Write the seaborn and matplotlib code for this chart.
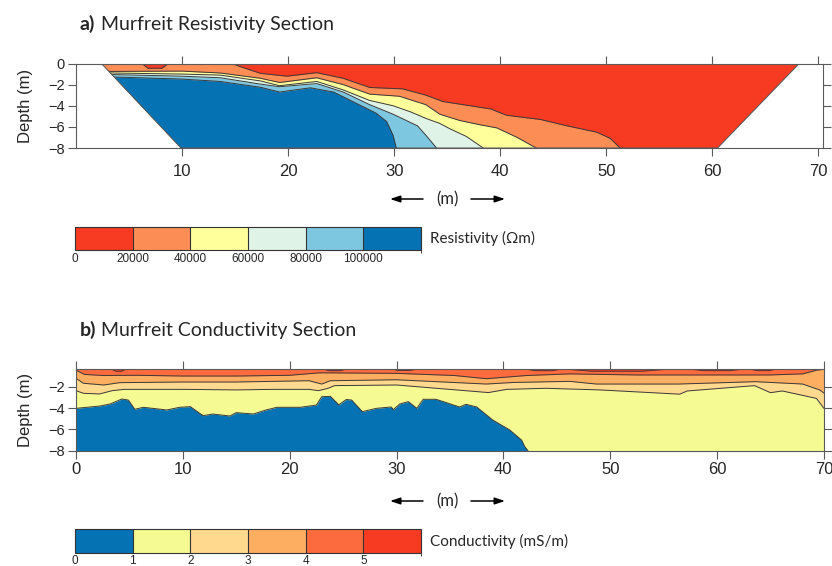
import matplotlib
matplotlib.use("Agg")
import numpy as np
import matplotlib.pyplot as plt
from matplotlib.colors import ListedColormap, BoundaryNorm
from matplotlib.patches import Polygon
import seaborn as sns

sns.set_style("white")
plt.rcParams['font.family'] = ['Liberation Sans', 'DejaVu Sans']

# ---------------- a) resistivity section ----------------
# survey footprint (trapezoid) x / depth
TRAP_X = [2.4, 68.2, 60.5, 9.9]
TRAP_D = [0, 0, -8, -8]

RES_BOUNDS = [0, 20000, 40000, 60000, 80000, 100000, 120000]
RES_TICKS = [0, 20000, 40000, 60000, 80000, 100000]
RES_COLORS = ['#f73b23', '#fc8d55', '#ffff9c', '#e0f3e7', '#7ec7e1', '#0572b3']

# contour depths (20k, 40k, 60k, 80k, 100k Ohm.m)
R1_X = [0, 14.7, 15.5, 17.0, 17.4, 19.9, 22.7, 25.2, 27.7, 30.8, 33.0, 34.6, 36.2, 39.1, 40.6, 43.8, 46.3, 49.1, 50.4, 51.3]
R1_D = [0, 0, -0.3, -0.8, -0.93, -1.2, -0.87, -1.4, -2.27, -2.4, -3.0, -3.6, -3.85, -4.3, -4.9, -5.3, -5.9, -6.5, -7.1, -8.0]
R2_X = [0, 3.5, 10, 13.6, 17.4, 19.2, 22.7, 25.2, 27.7, 30.5, 33.0, 34.3, 36.2, 38.1, 39.7, 41.6, 43.4]
R2_D = [-0.7, -0.75, -0.72, -0.9, -1.4, -1.8, -1.35, -2.0, -2.9, -3.1, -3.9, -4.8, -5.4, -5.8, -6.1, -7.0, -8.0]
R3_X = [0, 3.5, 10, 13.6, 17.4, 19.2, 22.7, 25.2, 27.7, 29.9, 31.6, 33.0, 34.3, 35.3, 36.8, 38.4]
R3_D = [-0.85, -0.9, -1.0, -1.1, -1.65, -2.1, -1.7, -2.5, -3.5, -4.0, -4.6, -5.2, -5.67, -6.2, -6.9, -8.0]
R4_X = [0, 3.5, 10, 13.6, 17.4, 19.2, 22.7, 25.2, 27.7, 29.9, 32.2, 33.0, 34.0]
R4_D = [-1.0, -1.05, -1.2, -1.35, -1.95, -2.2, -1.9, -2.7, -3.9, -4.8, -5.9, -6.8, -8.0]
R5_X = [0, 3.5, 9.9, 13.6, 17.4, 19.2, 22.1, 24.3, 26.7, 28.3, 29.3, 29.9, 30.2]
R5_D = [-1.25, -1.28, -1.47, -1.7, -2.25, -2.7, -2.3, -2.7, -3.9, -4.7, -5.5, -6.8, -8.0]
# small low-resistivity lens near the surface
RES_LENS_X = [6.2, 6.8, 8.1, 8.7]
RES_LENS_D = [0, -0.45, -0.45, 0]

# ---------------- b) conductivity section ----------------
COND_BOUNDS = [0, 1, 2, 3, 4, 5, 6]
COND_TICKS = [0, 1, 2, 3, 4, 5]
COND_COLORS = ['#0572b3', '#f5fa93', '#fed98e', '#fdae61', '#fc6b3d', '#f73b23']

C4_X = [0, 0.8, 2.6, 5.7, 10, 15, 20, 22.8, 26, 30, 35.4, 38.4, 40.3, 42.2, 46.2, 52.4, 58.6, 64.9, 68.0, 69.3, 70]
C4_D = [-0.45, -0.85, -0.95, -0.93, -1.0, -1.0, -0.93, -0.7, -0.72, -0.75, -0.95, -1.25, -1.1, -0.95, -0.8, -0.9, -0.9, -0.9, -0.8, -0.45, -0.37]
C3_X = [0, 0.7, 2.6, 4.1, 10, 15, 21.8, 23.0, 23.8, 30, 38.4, 41, 46.2, 48.7, 56.4, 63.6, 68.0, 69.6, 70]
C3_D = [-1.21, -1.68, -1.84, -1.62, -1.56, -1.56, -1.44, -1.75, -1.44, -1.35, -1.75, -1.6, -1.5, -1.75, -1.75, -1.53, -1.75, -2.3, -2.6]
C2_X = [0, 0.7, 2.2, 3.4, 4.5, 10, 15, 18.5, 21.8, 22.7, 23.6, 24.2, 30, 38.6, 40.3, 44, 49, 56.5, 57.2, 63.5, 65.0, 66.1, 68.0, 69.3, 70]
C2_D = [-2.37, -2.62, -2.68, -2.37, -2.25, -2.25, -2.3, -2.25, -2.25, -2.37, -2.15, -1.9, -1.84, -2.55, -2.25, -2.15, -2.3, -2.7, -2.4, -1.9, -2.56, -2.4, -2.81, -3.1, -4.03]
C1_X = [0, 2.25, 3.2, 4.3, 4.9, 5.5, 6.3, 8.5, 9.7, 10.7, 11.9, 12.8, 14.4, 15.0, 16.6, 17.8, 18.8, 21.0, 22.5,
        23.0, 23.8, 24.6, 25.3, 25.8, 26.8, 28.1, 29.5, 29.7, 30.3, 31.1, 31.9, 32.5, 33.7, 35.9, 36.5, 37.5,
        39.0, 40.6, 41.7, 42.0, 42.3]
C1_D = [-4.03, -3.81, -3.62, -3.15, -3.25, -4.12, -3.93, -4.18, -3.93, -3.87, -4.72, -4.56, -4.75, -4.43, -4.56, -4.18, -3.93, -3.93, -3.72,
        -2.94, -2.9, -3.7, -3.2, -3.25, -4.34, -4.03, -3.9, -4.15, -3.62, -3.4, -4.03, -3.18, -3.18, -3.9, -3.65, -3.9,
        -5.12, -6.06, -7.0, -7.62, -8.0]
# thin > 5 mS/m lenses at the surface: start, end, depth
HOT_X0 = [3.4, 23.2, 29.6, 42.2, 46.0, 57.6, 63.2]
HOT_X1 = [4.6, 25.2, 31.8, 45.3, 55.3, 62.3, 65.4]
HOT_D = [-0.55, -0.5, -0.47, -0.5, -0.55, -0.5, -0.5]

TOP_X = [10, 20, 30, 40, 50, 60, 70]
BOT_X = [0, 10, 20, 30, 40, 50, 60, 70]

LINE = '#3a3a3a'
SPINE = '#5a5a5a'
TITLE_FONT = ['Lato', 'DejaVu Sans']

fig = plt.figure(figsize=(8.32, 5.66), dpi=100)
ax1 = fig.add_axes([0.0913, 0.7385, 0.898, 0.1493])
ax2 = fig.add_axes([0.0913, 0.2037, 0.899, 0.1438])


def layer(ax, xs, ds, color, bottom=-8, clip=None):
    poly = ax.fill_between(xs, ds, bottom, color=color, lw=0)
    if clip is not None:
        poly.set_clip_path(clip)
    sns.lineplot(x=xs, y=ds, ax=ax, color=LINE, linewidth=0.7, sort=False, estimator=None)
    ln = ax.lines[-1]
    if clip is not None:
        ln.set_clip_path(clip)


# --- panel a
trap = Polygon(np.column_stack([TRAP_X, TRAP_D]), closed=True, transform=ax1.transData,
               fill=False, ec='#555555', lw=0.7, zorder=5)
ax1.add_patch(trap)
base = ax1.fill_between([0, 70.5], [0, 0], -8, color=RES_COLORS[0], lw=0)
base.set_clip_path(trap)
layer(ax1, R1_X, R1_D, RES_COLORS[1], clip=trap)
lens = ax1.fill_between(RES_LENS_X, RES_LENS_D, 0, color=RES_COLORS[0], lw=0)
sns.lineplot(x=RES_LENS_X, y=RES_LENS_D, ax=ax1, color=LINE, linewidth=0.7, sort=False, estimator=None)
layer(ax1, R2_X, R2_D, RES_COLORS[2], clip=trap)
layer(ax1, R3_X, R3_D, RES_COLORS[3], clip=trap)
layer(ax1, R4_X, R4_D, RES_COLORS[4], clip=trap)
layer(ax1, R5_X, R5_D, RES_COLORS[5], clip=trap)

ax1.set_xlim(0, 70.45)
ax1.set_ylim(-8, 0)
ax1.set_xticks(TOP_X)
ax1.set_yticks([0, -2, -4, -6, -8])
ax1.tick_params(axis='x', labelsize=12, length=6, pad=5.5, top=True, bottom=True, direction='out', color=SPINE)
ax1.tick_params(axis='y', labelsize=10.5, length=6, pad=2, left=True, right=True, direction='out', color=SPINE)

# --- panel b
ax2.fill_between([0, 70], [-0.37, -0.37], -8, color=COND_COLORS[4], lw=0)
layer(ax2, C4_X, C4_D, COND_COLORS[3])
layer(ax2, C3_X, C3_D, COND_COLORS[2])
layer(ax2, C2_X, C2_D, COND_COLORS[1])
layer(ax2, C1_X, C1_D, COND_COLORS[0])
for a, b, d in zip(HOT_X0, HOT_X1, HOT_D):
    w = b - a
    hx = [a, a + 0.25 * w, b - 0.25 * w, b]
    hd = [-0.37, d, d, -0.37]
    ax2.fill_between(hx, hd, -0.37, color=COND_COLORS[5], lw=0)
    sns.lineplot(x=hx, y=hd, ax=ax2, color=LINE, linewidth=0.6, sort=False, estimator=None)

ax2.set_xlim(0, 70)
ax2.set_ylim(-8, -0.37)
ax2.set_xticks(BOT_X)
ax2.set_yticks([-2, -4, -6, -8])
ax2.tick_params(axis='x', labelsize=12, length=6, pad=2, top=True, bottom=True, direction='out', color=SPINE)
ax2.tick_params(axis='y', labelsize=10.5, length=6, pad=2, left=True, right=True, direction='out', color=SPINE)

for ax in (ax1, ax2):
    for s in ax.spines.values():
        s.set_color(SPINE)
        s.set_linewidth(0.8)
    ax.set_ylabel('Depth (m)', fontsize=12)
    ax.yaxis.set_label_coords(-0.058, 0.5)

# titles
fig.text(0.096, 0.947, 'a)', fontsize=14, fontweight='bold', family=TITLE_FONT)
fig.text(0.1215, 0.947, 'Murfreit Resistivity Section', fontsize=14, family=TITLE_FONT)
fig.text(0.096, 0.4064, 'b)', fontsize=14, fontweight='bold', family=TITLE_FONT)
fig.text(0.1215, 0.4064, 'Murfreit Conductivity Section', fontsize=14, family=TITLE_FONT)

# distance annotations
arrow = dict(arrowstyle='-|>,head_length=0.6,head_width=0.2', lw=1.1, color='black',
             shrinkA=0, shrinkB=0)
for yf in (1 - 199 / 566, 1 - 501 / 566):
    fig.text(447 / 832, yf, '(m)', fontsize=12, family=TITLE_FONT, ha='center', va='center')
    ax1.annotate('', xy=(390 / 832, yf), xytext=(423 / 832, yf), xycoords='figure fraction',
                 textcoords='figure fraction', arrowprops=arrow, annotation_clip=False)
    ax1.annotate('', xy=(505 / 832, yf), xytext=(471 / 832, yf), xycoords='figure fraction',
                 textcoords='figure fraction', arrowprops=arrow, annotation_clip=False)


def colorbar(rect, colors, bounds, ticks, label):
    cax = fig.add_axes(rect)
    cmap = ListedColormap(colors)
    norm = BoundaryNorm(bounds, cmap.N)
    cb = fig.colorbar(plt.cm.ScalarMappable(norm=norm, cmap=cmap), cax=cax,
                      orientation='horizontal', drawedges=True, ticks=ticks)
    cb.outline.set_edgecolor('#333333')
    cb.outline.set_linewidth(0.8)
    cb.dividers.set_color('#333333')
    cb.dividers.set_linewidth(0.8)
    cax.tick_params(length=0, labelsize=8.5, pad=2)
    cax.text(1.025, 0.5, label, transform=cax.transAxes, va='center', ha='left',
             fontsize=11, family=TITLE_FONT)


colorbar([0.0901, 0.5583, 0.416, 0.0412], RES_COLORS, RES_BOUNDS, RES_TICKS, 'Resistivity (Ωm)')
colorbar([0.0901, 0.0235, 0.416, 0.0412], COND_COLORS, COND_BOUNDS, COND_TICKS, 'Conductivity (mS/m)')

fig.savefig('out.png', dpi=100)
